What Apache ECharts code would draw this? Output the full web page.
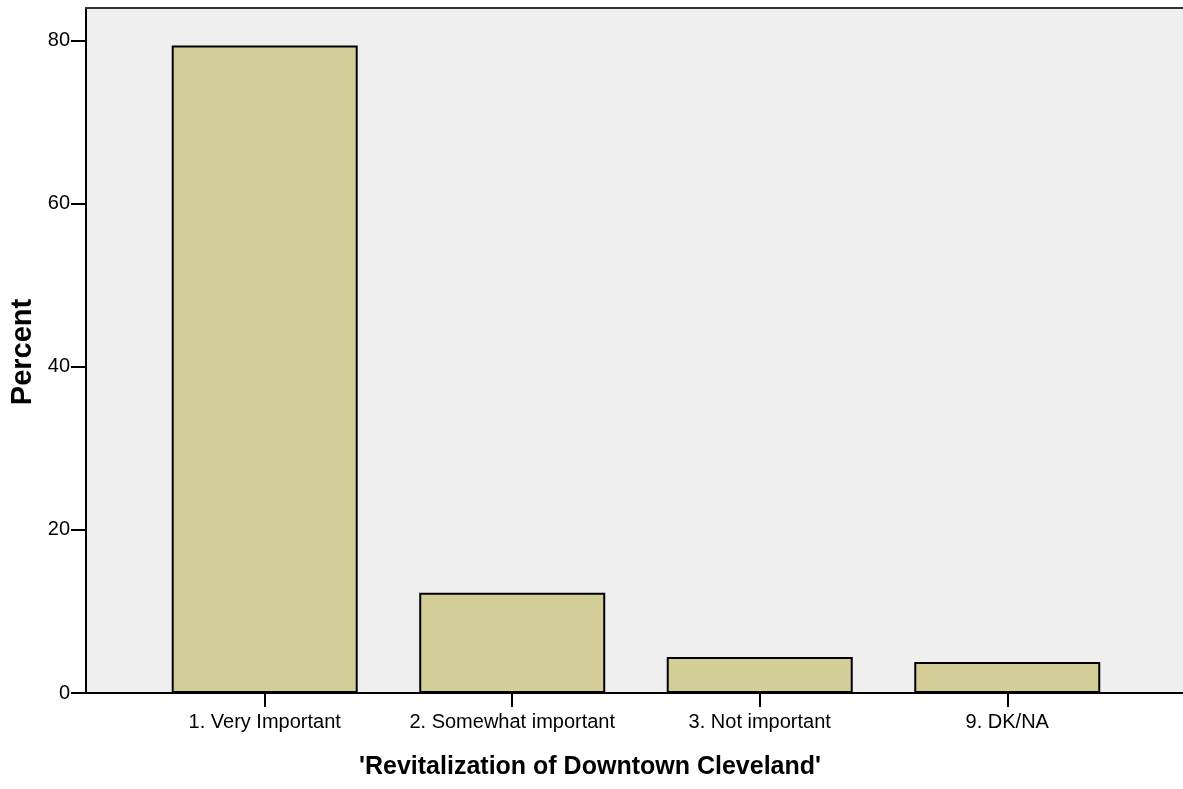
<!DOCTYPE html>
<html>
<head>
<meta charset="utf-8">
<script src="https://cdn.jsdelivr.net/npm/echarts@6/dist/echarts.min.js"></script>
<style>
html,body{margin:0;padding:0;background:#fff;}
#chart{width:1183px;height:789px;}
</style>
</head>
<body>
<div id="chart"></div>
<script>
const categories = ['1. Very Important', '2. Somewhat important', '3. Not important', '9. DK/NA'];
const percentValues = [79.4, 12.3, 4.4, 3.8];
const yTickValues = [0, 20, 40, 60, 80];
const xTitle = "'Revitalization of Downtown Cleveland'";
const yTitle = 'Percent';

const catPositions = categories.map((c, i) => i);
const barData = percentValues.map((v, i) => [catPositions[i], v]);

const FONT = '"Liberation Sans", Arial, sans-serif';
const chart = echarts.init(document.getElementById('chart'), null, {renderer: 'canvas'});
chart.setOption({
  animation: false,
  backgroundColor: '#ffffff',
  grid: {left: 86, right: 0, top: 8, bottom: 96, show: true, backgroundColor: '#efefef', borderWidth: 0},
  xAxis: [{
    type: 'value', min: -0.722, max: 3.71,
    axisLine: {show: true, onZero: false, lineStyle: {color: '#000', width: 2}},
    axisTick: {show: true, customValues: catPositions, length: 14, lineStyle: {color: '#000', width: 2}},
    axisLabel: {customValues: catPositions, formatter: v => categories[Math.round(v)] || '', fontSize: 20, margin: 19, color: '#000', fontFamily: FONT},
    splitLine: {show: false}
  }, {
    type: 'value', position: 'top', min: -0.722, max: 3.71,
    axisLine: {show: true, onZero: false, lineStyle: {color: '#333', width: 2}},
    axisTick: {show: false}, axisLabel: {show: false}, splitLine: {show: false}
  }],
  yAxis: {
    type: 'value', min: 0, max: 84,
    axisLine: {show: true, onZero: false, lineStyle: {color: '#000', width: 2}},
    axisTick: {show: true, customValues: yTickValues, length: 15, lineStyle: {color: '#000', width: 2}},
    axisLabel: {customValues: yTickValues, fontSize: 20, margin: 16, color: '#000', fontFamily: FONT},
    splitLine: {show: false}
  },
  graphic: [
    {type: 'text', x: 590, y: 767, style: {text: xTitle, font: 'bold 25px ' + FONT, fill: '#000', textAlign: 'center', textVerticalAlign: 'middle'}},
    {type: 'text', x: 23, y: 352, rotation: Math.PI / 2, style: {text: yTitle, font: 'bold 29px ' + FONT, fill: '#000', textAlign: 'center', textVerticalAlign: 'middle'}}
  ],
  series: [{
    type: 'bar', xAxisIndex: 0, data: barData, barWidth: 186,
    itemStyle: {color: '#d3ce98', borderColor: '#000', borderWidth: 2}
  }]
});
</script>
</body>
</html>
